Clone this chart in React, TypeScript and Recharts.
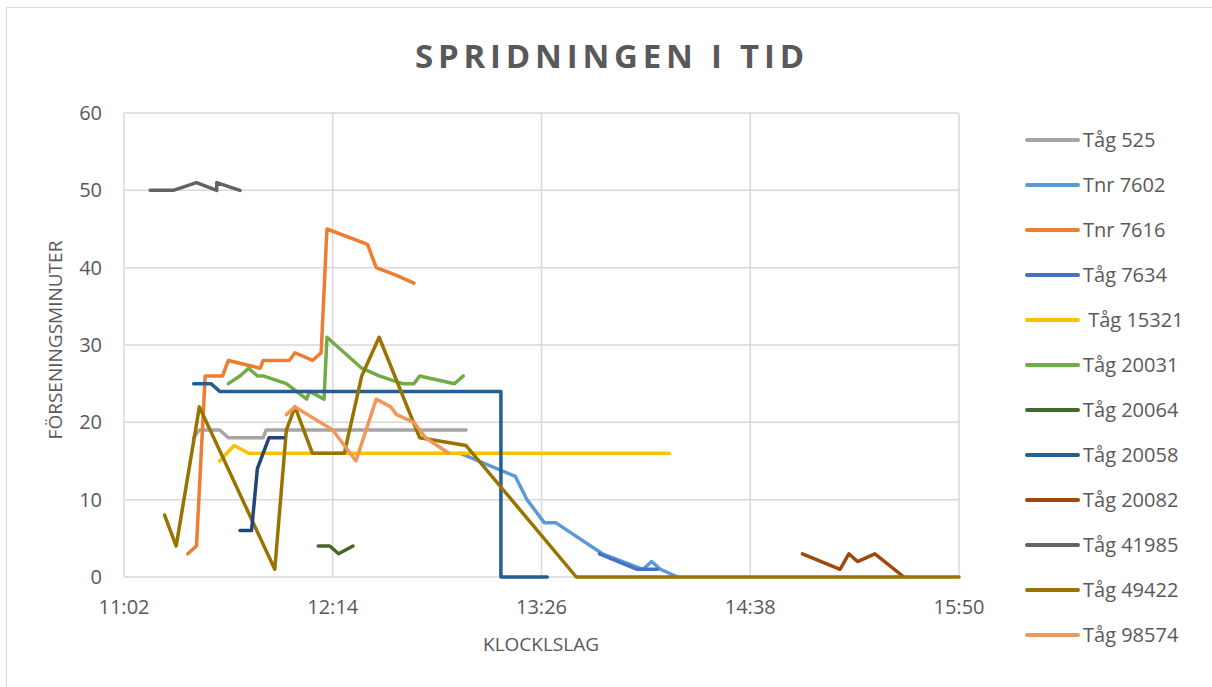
import { CartesianGrid, Legend, Line, LineChart, XAxis, YAxis } from "recharts";

// clock times (HH:MM) and delay minutes, one pair per train
const tag525Times = ["11:26", "11:28", "11:35", "11:38", "11:50", "11:51", "13:00"];
const tag525Delay = [18, 19, 19, 18, 18, 19, 19];

const tnr7602Times = ["12:58", "13:17", "13:21", "13:27", "13:31", "13:47", "14:01", "14:04", "14:07", "14:13"];
const tnr7602Delay = [16, 13, 10, 7, 7, 3, 1, 2, 1, 0];

const tnr7616Times = ["11:24", "11:27", "11:30", "11:36", "11:38", "11:49", "11:50", "11:59", "12:01", "12:07", "12:10", "12:12", "12:26", "12:29", "12:36", "12:42"];
const tnr7616Delay = [3, 4, 26, 26, 28, 27, 28, 28, 29, 28, 29, 45, 43, 40, 39, 38];

const tag7634Times = ["13:46", "13:59", "14:06"];
const tag7634Delay = [3, 1, 1];

const tag15321Times = ["11:35", "11:40", "11:45", "14:10"];
const tag15321Delay = [15, 17, 16, 16];

const tag20031Times = ["11:38", "11:42", "11:45", "11:48", "11:50", "11:58", "12:05", "12:06", "12:11", "12:12", "12:24", "12:30", "12:38", "12:42", "12:44", "12:56", "12:59"];
const tag20031Delay = [25, 26, 27, 26, 26, 25, 23, 24, 23, 31, 27, 26, 25, 25, 26, 25, 26];

const tag20064Times = ["12:09", "12:13", "12:16", "12:21"];
const tag20064Delay = [4, 4, 3, 4];

const tag20058Times = ["11:26", "11:32", "11:35", "13:12", "13:12", "13:28"];
const tag20058Delay = [25, 25, 24, 24, 0, 0];

const tag20082Times = ["14:56", "15:09", "15:12", "15:15", "15:21", "15:31"];
const tag20082Delay = [3, 1, 3, 2, 3, 0];

const tag41985Times = ["11:11", "11:19", "11:27", "11:34", "11:34", "11:42"];
const tag41985Delay = [50, 50, 51, 50, 51, 50];

const tag49422Times = ["11:16", "11:20", "11:28", "11:54", "11:58", "12:01", "12:07", "12:18", "12:24", "12:30", "12:44", "13:00", "13:38", "15:50"];
const tag49422Delay = [8, 4, 22, 1, 19, 22, 16, 16, 26, 31, 18, 17, 0, 0];

const tag98574Times = ["11:58", "12:01", "12:14", "12:22", "12:29", "12:34", "12:36", "12:42", "12:46", "12:54"];
const tag98574Delay = [21, 22, 19, 15, 23, 22, 21, 20, 18, 16];

// extra series drawn in the chart but without a legend entry
const unlistedTimes = ["11:42", "11:46", "11:48", "11:52", "11:57"];
const unlistedDelay = [6, 6, 14, 18, 18];

const xTicks = ["11:02", "12:14", "13:26", "14:38", "15:50"];
const yTicks = [0, 10, 20, 30, 40, 50, 60];

const toMin = (s: string) => {
  const [h, m] = s.split(":").map(Number);
  return h * 60 + m;
};
const fmt = (v: number) => `${Math.floor(v / 60)}:${String(v % 60).padStart(2, "0")}`;
const pts = (times: string[], delay: number[]) =>
  times.map((t, i) => ({ t: toMin(t), v: delay[i] }));

const series = [
  { name: "Tåg 525", color: "#A5A5A5", data: pts(tag525Times, tag525Delay) },
  { name: "Tnr 7602", color: "#5B9BD5", data: pts(tnr7602Times, tnr7602Delay) },
  { name: "Tnr 7616", color: "#ED7D31", data: pts(tnr7616Times, tnr7616Delay) },
  { name: "Tåg 7634", color: "#4472C4", data: pts(tag7634Times, tag7634Delay) },
  { name: " Tåg 15321", color: "#FFC000", data: pts(tag15321Times, tag15321Delay) },
  { name: "Tåg 20031", color: "#70AD47", data: pts(tag20031Times, tag20031Delay) },
  { name: "Tåg 20064", color: "#43682B", data: pts(tag20064Times, tag20064Delay) },
  { name: "Tåg 20058", color: "#255E91", data: pts(tag20058Times, tag20058Delay) },
  { name: "Tåg 20082", color: "#9E480E", data: pts(tag20082Times, tag20082Delay) },
  { name: "Tåg 41985", color: "#636363", data: pts(tag41985Times, tag41985Delay) },
  { name: "Tåg 49422", color: "#997300", data: pts(tag49422Times, tag49422Delay) },
  { name: "Tåg 98574", color: "#F1975A", data: pts(tag98574Times, tag98574Delay) },
];
const legendOrder = series.map((s) => s.name);

const font = "'Open Sans', sans-serif";
const textColor = "#595959";

function LegendList({ payload }: any) {
  const items = (payload || [])
    .filter((p: any) => legendOrder.includes(p.value))
    .sort((a: any, b: any) => legendOrder.indexOf(a.value) - legendOrder.indexOf(b.value));
  return (
    <div style={{ fontFamily: font, fontSize: 20, color: textColor }}>
      {items.map((p: any) => (
        <div key={p.value} style={{ display: "flex", alignItems: "center", height: 45 }}>
          <span
            style={{ width: 55, height: 4, borderRadius: 2, background: p.color, display: "inline-block" }}
          />
          <span style={{ marginLeft: 3, whiteSpace: "pre" }}>{p.value}</span>
        </div>
      ))}
    </div>
  );
}

export default function App() {
  return (
    <div
      style={{
        position: "absolute",
        left: 0,
        top: 0,
        width: 1212,
        height: 687,
        overflow: "hidden",
        background: "#fff",
        fontFamily: font,
      }}
    >
      <div
        style={{
          position: "absolute",
          left: 6,
          top: 7,
          width: 1240,
          height: 720,
          border: "1.5px solid #D9D9D9",
        }}
      />
      <div
        style={{
          position: "absolute",
          left: 0,
          top: 33,
          width: 1224,
          textAlign: "center",
          fontSize: 33,
          fontWeight: 700,
          letterSpacing: 4.8,
          color: textColor,
        }}
      >
        SPRIDNINGEN I TID
      </div>
      <div
        style={{
          position: "absolute",
          left: 55,
          top: 340,
          transform: "translate(-50%, -50%) rotate(-90deg)",
          fontSize: 19,
          color: textColor,
          whiteSpace: "nowrap",
        }}
      >
        FÖRSENINGSMINUTER
      </div>
      <div
        style={{
          position: "absolute",
          left: 541,
          top: 644,
          transform: "translate(-50%, -50%)",
          fontSize: 19,
          color: textColor,
        }}
      >
        KLOCKLSLAG
      </div>
      <LineChart
        width={1212}
        height={687}
        margin={{ top: 113, right: 253, bottom: 70, left: 64 }}
      >
        <CartesianGrid stroke="#D9D9D9" strokeWidth={1.5} />
        <XAxis
          type="number"
          dataKey="t"
          domain={[toMin(xTicks[0]), toMin(xTicks[xTicks.length - 1])]}
          ticks={xTicks.map(toMin)}
          tickFormatter={fmt}
          axisLine={false}
          tickLine={false}
          tickSize={0}
          tickMargin={23}
          height={40}
          tick={{ fill: textColor, fontSize: 20, fontFamily: font }}
        />
        <YAxis
          type="number"
          domain={[0, 60]}
          ticks={yTicks}
          axisLine={false}
          tickLine={false}
          tickSize={0}
          tickMargin={22}
          width={60}
          tick={{ fill: textColor, fontSize: 20, fontFamily: font }}
        />
        <Legend
          layout="vertical"
          align="center"
          verticalAlign="middle"
          content={<LegendList />}
          wrapperStyle={{ left: 1025, top: 117, width: 185 }}
        />
        {series.map((s) => (
          <Line
            key={s.name}
            name={s.name}
            data={s.data}
            dataKey="v"
            type="linear"
            stroke={s.color}
            strokeWidth={3.5}
            strokeLinecap="round"
            strokeLinejoin="round"
            dot={false}
            isAnimationActive={false}
          />
        ))}
        <Line
          name="unlisted"
          data={pts(unlistedTimes, unlistedDelay)}
          dataKey="v"
          type="linear"
          stroke="#264478"
          strokeWidth={3.5}
          strokeLinecap="round"
          strokeLinejoin="round"
          dot={false}
          legendType="none"
          isAnimationActive={false}
        />
      </LineChart>
    </div>
  );
}
